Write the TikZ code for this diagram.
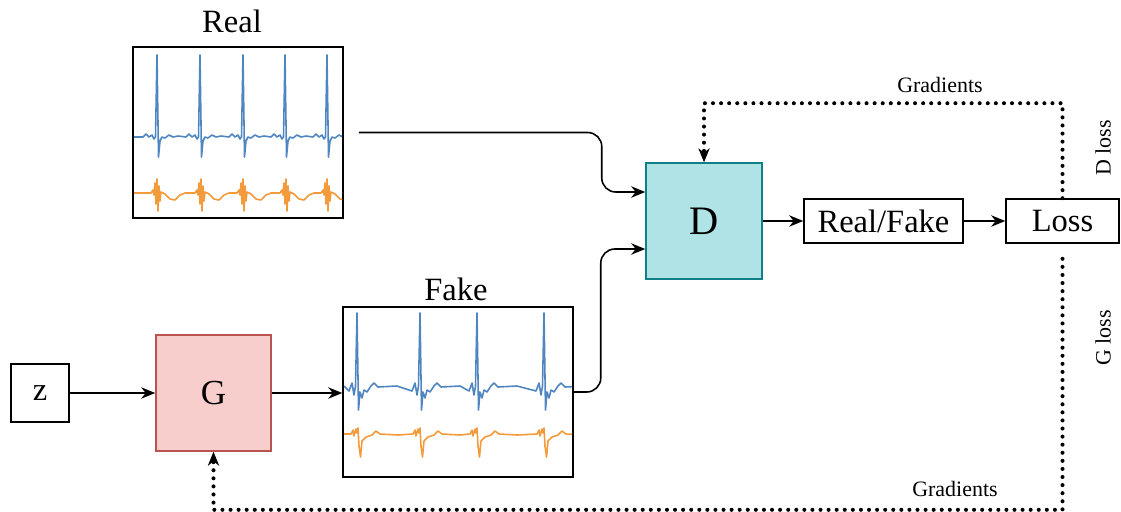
\documentclass[tikz,border=0pt]{standalone}
\usepackage{fontspec}
\setmainfont{Liberation Serif}
\usetikzlibrary{arrows.meta,calc}
\definecolor{ecgblue}{HTML}{4F86C0}
\definecolor{ecgorange}{HTML}{F39A3B}
\definecolor{gfill}{HTML}{F8CECC}
\definecolor{gdraw}{HTML}{B85450}
\definecolor{dfill}{HTML}{B0E3E6}
\definecolor{ddraw}{HTML}{0E8088}
\begin{document}
\begin{tikzpicture}[x=0.02cm,y=-0.02cm,
  box/.style={draw, line width=0.9pt, inner sep=0pt},
  arr/.style={line width=0.9pt, -{Stealth[length=8pt,width=6.5pt]}},
  dotline/.style={line width=2.3pt, dash pattern=on 0pt off 4.6pt, line cap=round},
  dotarr/.style={dotline, -{Stealth[length=8pt,width=6.5pt,line width=0.5pt]}},
  ecg/.style={line width=0.9pt, line join=round},
  lbl/.style={font=\fontsize{12.5pt}{14pt}\selectfont, inner sep=1pt},
  big/.style={font=\fontsize{18.5pt}{21pt}\selectfont}]
\useasboundingbox (0,0) rectangle (1121,511);

% boxes
\node[box, minimum width=4.2cm, minimum height=3.42cm] (real) at (238,132.5) {};
\node[box, minimum width=4.6cm, minimum height=3.4cm] (fake) at (458,392) {};
\node[big] (reallbl) at (232,21) {Real};
\node[big] (fakelbl) at (456,289) {Fake};
\node[box, big, minimum width=1.16cm, minimum height=1.16cm] (z) at (40,393) {z};
\node[box, draw=gdraw, fill=gfill, minimum width=2.3cm, minimum height=2.32cm, font=\fontsize{20pt}{22pt}\selectfont] (G) at (213.5,393) {G};
\node[box, draw=ddraw, fill=dfill, minimum width=2.32cm, minimum height=2.32cm, font=\fontsize{23pt}{26pt}\selectfont] (D) at (704,221) {D};
\node[box, big, minimum width=3.18cm, minimum height=0.88cm] (rf) at (883.5,221) {Real/Fake};
\node[box, big, minimum width=2.26cm, minimum height=0.88cm] (loss) at (1062.5,221) {Loss};

% ECG real
\begin{scope}
\clip (134,48) rectangle (342,217);
\draw[ecg, ecgblue] (134,137)
  foreach \b in {157,200,243,285,327} {
   -- ({\b-14},137) -- ({\b-11},134) -- ({\b-8},137) -- ({\b-5},135) -- ({\b-3},139) -- ({\b-1.5},137)
   -- (\b,55) -- ({\b+1.5},157) -- ({\b+3},141) -- ({\b+5},137) -- ({\b+8},138) -- ({\b+12},135)
   -- ({\b+16},137) -- ({\b+21},136)
  } -- (342,137);
\draw[ecg, ecgorange] (134,193)
  foreach \b in {157,201,243,286,327} {
   -- ({\b-6},193) -- ({\b-4},190) -- ({\b-3},195) -- ({\b-2},183) -- ({\b-1},204) -- (\b,179)
   -- ({\b+1},211) -- ({\b+2},186) -- ({\b+3},201) -- ({\b+4},192) -- ({\b+8},194)
   -- ({\b+13},199) -- ({\b+18},200) -- ({\b+23},195) -- ({\b+28},193)
  } -- (342,193);
\end{scope}

% ECG fake
\begin{scope}
\clip (344,308) rectangle (572,476);
\draw[ecg, ecgblue] (344,386)
  foreach \b in {357,420,477,544} {
   -- ({\b-8},391) -- ({\b-5},383) -- ({\b-3},395) -- ({\b-1.5},386)
   -- (\b,313) -- ({\b+1.5},410) -- ({\b+3},392) -- ({\b+5},398) -- ({\b+7},390) -- ({\b+10},392)
   -- ({\b+14},386) -- ({\b+17},383) -- ({\b+21},387) -- ({\b+40},386)
  } -- (572,384);
\draw[ecg, ecgorange] (344,434)
  foreach \b in {358,420,477,544} {
   -- ({\b-7},434) -- ({\b-5},430) -- ({\b-4},436) -- ({\b-2},429) -- ({\b-1},433) -- (\b,428)
   -- ({\b+1},446) -- ({\b+2.5},457) -- ({\b+4},441) -- ({\b+8},437) -- ({\b+14},435)
   -- ({\b+18},431) -- ({\b+22},434) -- ({\b+40},435)
  } -- (572,433);
\end{scope}

% connectors
\draw[arr] (z) -- (G);
\draw[arr] (G.east) -- (G.east -| fake.west);
\draw[arr, rounded corners=8pt] ([xshift=0.3cm]real.east) -- ++(243,0) |- ([yshift=0.58cm]D.west);
\draw[arr, rounded corners=8pt] (fake.east) -- ++(27,0) |- ([yshift=-0.56cm]D.west);
\draw[arr] (D) -- (rf);
\draw[arr] (rf) -- (loss);

\coordinate (topc) at ($(loss.north)+(0,-95)$);
\coordinate (botc) at ($(loss.south)+(0,266)$);
\draw[dotarr] (loss.north) -- (topc) -| (D.north);
\draw[dotarr] ([yshift=-0.3cm]loss.south) -- (botc) -| (G.south);

\node[lbl] (g1) at (940,85) {Gradients};
\node[lbl] (g2) at (955,489) {Gradients};
\node[lbl, rotate=90] (dl) at (1103,148) {D loss};
\node[lbl, rotate=90] (gl) at (1103,338) {G loss};
\end{tikzpicture}
\end{document}
